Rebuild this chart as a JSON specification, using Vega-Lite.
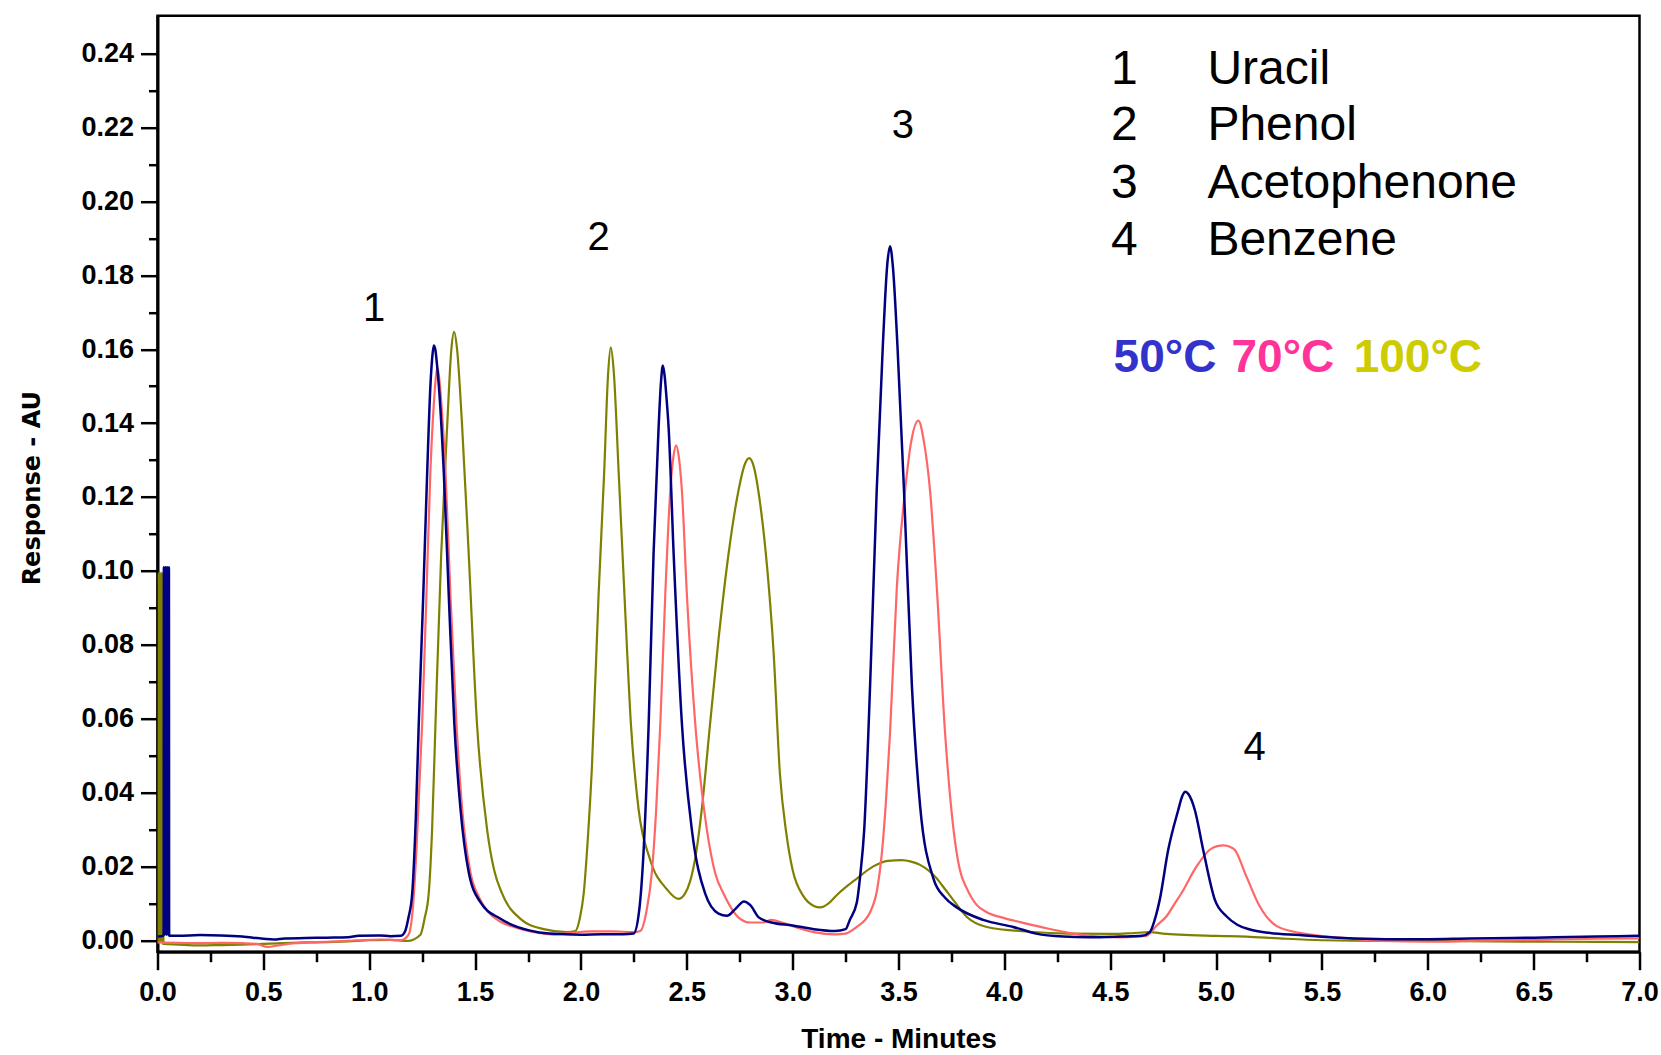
{
  "$schema": "https://vega.github.io/schema/vega-lite/v6.json",
  "autosize": {"type": "none"},
  "padding": {"left": 157.5, "top": 15.7, "right": 21.5, "bottom": 103.3},
  "width": 1482,
  "height": 936,
  "background": "white",
  "config": {
    "view": {"stroke": "black", "strokeWidth": 2.5},
    "axis": {"grid": false, "domainColor": "black", "tickColor": "black", "labelColor": "black", "titleColor": "black"}
  },
  "datasets": {
    "traces": [
      {"s":"50","t":0.000,"v":0.0010},{"s":"50","t":0.029,"v":0.0012},{"s":"50","t":0.030,"v":0.101},{"s":"50","t":0.034,"v":0.0015},{"s":"50","t":0.038,"v":0.101},{"s":"50","t":0.042,"v":0.0015},{"s":"50","t":0.046,"v":0.101},{"s":"50","t":0.050,"v":0.0015},{"s":"50","t":0.054,"v":0.101},{"s":"50","t":0.055,"v":0.0012},
      {"s":"50","t":0.10,"v":0.0012},{"s":"50","t":0.20,"v":0.0014},{"s":"50","t":0.30,"v":0.0013},{"s":"50","t":0.40,"v":0.0010},{"s":"50","t":0.50,"v":0.0004},{"s":"50","t":0.55,"v":0.0002},{"s":"50","t":0.60,"v":0.0005},{"s":"50","t":0.70,"v":0.0006},{"s":"50","t":0.80,"v":0.0007},{"s":"50","t":0.90,"v":0.0008},{"s":"50","t":0.95,"v":0.0012},{"s":"50","t":1.05,"v":0.0013},{"s":"50","t":1.10,"v":0.0011},{"s":"50","t":1.15,"v":0.0012},{"s":"50","t":1.17,"v":0.0025},
      {"s":"50","t":1.185,"v":0.006},{"s":"50","t":1.203,"v":0.0126},{"s":"50","t":1.22,"v":0.033},{"s":"50","t":1.234,"v":0.0586},{"s":"50","t":1.255,"v":0.093},{"s":"50","t":1.274,"v":0.127},{"s":"50","t":1.289,"v":0.150},{"s":"50","t":1.298,"v":0.158},{"s":"50","t":1.305,"v":0.161},{"s":"50","t":1.312,"v":0.160},{"s":"50","t":1.320,"v":0.156},{"s":"50","t":1.329,"v":0.150},{"s":"50","t":1.352,"v":0.127},{"s":"50","t":1.376,"v":0.093},{"s":"50","t":1.402,"v":0.0586},{"s":"50","t":1.431,"v":0.0356},{"s":"50","t":1.47,"v":0.0184},{"s":"50","t":1.525,"v":0.0103},{"s":"50","t":1.62,"v":0.0058},{"s":"50","t":1.76,"v":0.0026},{"s":"50","t":1.85,"v":0.0018},{"s":"50","t":2.00,"v":0.0015},{"s":"50","t":2.10,"v":0.0016},{"s":"50","t":2.20,"v":0.0016},{"s":"50","t":2.249,"v":0.0018},
      {"s":"50","t":2.275,"v":0.008},{"s":"50","t":2.296,"v":0.0241},{"s":"50","t":2.320,"v":0.0586},{"s":"50","t":2.343,"v":0.1045},{"s":"50","t":2.367,"v":0.139},{"s":"50","t":2.378,"v":0.151},{"s":"50","t":2.387,"v":0.1556},{"s":"50","t":2.395,"v":0.153},{"s":"50","t":2.404,"v":0.147},{"s":"50","t":2.414,"v":0.139},{"s":"50","t":2.438,"v":0.1045},{"s":"50","t":2.477,"v":0.0586},{"s":"50","t":2.524,"v":0.0299},{"s":"50","t":2.587,"v":0.0126},{"s":"50","t":2.65,"v":0.0072},{"s":"50","t":2.69,"v":0.0066},{"s":"50","t":2.73,"v":0.0085},{"s":"50","t":2.77,"v":0.0105},{"s":"50","t":2.80,"v":0.0095},{"s":"50","t":2.84,"v":0.0062},{"s":"50","t":2.90,"v":0.0048},{"s":"50","t":3.00,"v":0.0040},{"s":"50","t":3.10,"v":0.0030},{"s":"50","t":3.20,"v":0.0025},{"s":"50","t":3.25,"v":0.0030},
      {"s":"50","t":3.27,"v":0.0055},{"s":"50","t":3.303,"v":0.0102},{"s":"50","t":3.32,"v":0.018},{"s":"50","t":3.338,"v":0.0299},{"s":"50","t":3.366,"v":0.0692},{"s":"50","t":3.397,"v":0.1217},{"s":"50","t":3.426,"v":0.161},{"s":"50","t":3.447,"v":0.183},{"s":"50","t":3.460,"v":0.1879},{"s":"50","t":3.474,"v":0.182},{"s":"50","t":3.495,"v":0.161},{"s":"50","t":3.526,"v":0.1217},{"s":"50","t":3.563,"v":0.0692},{"s":"50","t":3.602,"v":0.0364},{"s":"50","t":3.665,"v":0.0167},{"s":"50","t":3.72,"v":0.0115},{"s":"50","t":3.775,"v":0.0089},{"s":"50","t":3.90,"v":0.0055},{"s":"50","t":4.042,"v":0.0036},{"s":"50","t":4.15,"v":0.0018},{"s":"50","t":4.278,"v":0.0010},{"s":"50","t":4.40,"v":0.0008},{"s":"50","t":4.55,"v":0.0010},{"s":"50","t":4.65,"v":0.0012},{"s":"50","t":4.687,"v":0.0022},
      {"s":"50","t":4.71,"v":0.0055},{"s":"50","t":4.734,"v":0.011},{"s":"50","t":4.774,"v":0.0245},{"s":"50","t":4.821,"v":0.0352},{"s":"50","t":4.840,"v":0.0390},{"s":"50","t":4.855,"v":0.0402},{"s":"50","t":4.870,"v":0.0395},{"s":"50","t":4.900,"v":0.0352},{"s":"50","t":4.939,"v":0.0245},{"s":"50","t":4.994,"v":0.011},{"s":"50","t":5.049,"v":0.0065},{"s":"50","t":5.10,"v":0.0042},{"s":"50","t":5.160,"v":0.0029},{"s":"50","t":5.25,"v":0.0020},{"s":"50","t":5.395,"v":0.0014},{"s":"50","t":5.6,"v":0.0006},{"s":"50","t":5.8,"v":0.0003},{"s":"50","t":6.0,"v":0.0003},{"s":"50","t":6.2,"v":0.0005},{"s":"50","t":6.4,"v":0.0006},{"s":"50","t":6.6,"v":0.0008},{"s":"50","t":6.8,"v":0.0010},{"s":"50","t":7.0,"v":0.0012},

      {"s":"70","t":0.00,"v":-0.0006},{"s":"70","t":0.1,"v":-0.0007},{"s":"70","t":0.2,"v":-0.0008},{"s":"70","t":0.3,"v":-0.0007},{"s":"70","t":0.4,"v":-0.0008},{"s":"70","t":0.47,"v":-0.0010},{"s":"70","t":0.52,"v":-0.0018},{"s":"70","t":0.57,"v":-0.0014},{"s":"70","t":0.65,"v":-0.0008},{"s":"70","t":0.75,"v":-0.0005},{"s":"70","t":0.85,"v":-0.0003},{"s":"70","t":0.95,"v":0.0000},{"s":"70","t":1.05,"v":0.0002},{"s":"70","t":1.15,"v":0.0000},{"s":"70","t":1.186,"v":0.0015},
      {"s":"70","t":1.205,"v":0.008},{"s":"70","t":1.223,"v":0.0241},{"s":"70","t":1.250,"v":0.0586},{"s":"70","t":1.270,"v":0.093},{"s":"70","t":1.289,"v":0.127},{"s":"70","t":1.305,"v":0.145},{"s":"70","t":1.314,"v":0.152},{"s":"70","t":1.322,"v":0.155},{"s":"70","t":1.331,"v":0.152},{"s":"70","t":1.34,"v":0.146},{"s":"70","t":1.360,"v":0.127},{"s":"70","t":1.384,"v":0.093},{"s":"70","t":1.412,"v":0.0586},{"s":"70","t":1.439,"v":0.0356},{"s":"70","t":1.478,"v":0.0184},{"s":"70","t":1.52,"v":0.0115},{"s":"70","t":1.557,"v":0.008},{"s":"70","t":1.62,"v":0.005},{"s":"70","t":1.683,"v":0.0036},{"s":"70","t":1.80,"v":0.0020},{"s":"70","t":1.87,"v":0.0015},{"s":"70","t":1.95,"v":0.0020},{"s":"70","t":2.05,"v":0.0024},{"s":"70","t":2.15,"v":0.0024},{"s":"70","t":2.25,"v":0.0022},{"s":"70","t":2.28,"v":0.0025},
      {"s":"70","t":2.31,"v":0.008},{"s":"70","t":2.335,"v":0.0184},{"s":"70","t":2.355,"v":0.035},{"s":"70","t":2.375,"v":0.0586},{"s":"70","t":2.398,"v":0.093},{"s":"70","t":2.422,"v":0.1217},{"s":"70","t":2.437,"v":0.131},{"s":"70","t":2.450,"v":0.1340},{"s":"70","t":2.462,"v":0.131},{"s":"70","t":2.477,"v":0.1217},{"s":"70","t":2.501,"v":0.093},{"s":"70","t":2.540,"v":0.0586},{"s":"70","t":2.595,"v":0.0299},{"s":"70","t":2.635,"v":0.018},{"s":"70","t":2.674,"v":0.0126},{"s":"70","t":2.752,"v":0.0058},{"s":"70","t":2.80,"v":0.0048},{"s":"70","t":2.86,"v":0.0048},{"s":"70","t":2.90,"v":0.0055},{"s":"70","t":2.95,"v":0.0048},{"s":"70","t":3.00,"v":0.0038},{"s":"70","t":3.10,"v":0.0022},{"s":"70","t":3.20,"v":0.0016},{"s":"70","t":3.25,"v":0.0018},
      {"s":"70","t":3.30,"v":0.0035},{"s":"70","t":3.366,"v":0.0076},{"s":"70","t":3.40,"v":0.014},{"s":"70","t":3.421,"v":0.0233},{"s":"70","t":3.440,"v":0.037},{"s":"70","t":3.460,"v":0.0561},{"s":"70","t":3.492,"v":0.0954},{"s":"70","t":3.531,"v":0.1217},{"s":"70","t":3.560,"v":0.135},{"s":"70","t":3.594,"v":0.1407},{"s":"70","t":3.62,"v":0.135},{"s":"70","t":3.649,"v":0.1217},{"s":"70","t":3.681,"v":0.0954},{"s":"70","t":3.720,"v":0.0561},{"s":"70","t":3.760,"v":0.0299},{"s":"70","t":3.790,"v":0.019},{"s":"70","t":3.822,"v":0.0141},{"s":"70","t":3.87,"v":0.0095},{"s":"70","t":3.917,"v":0.0076},{"s":"70","t":4.00,"v":0.0060},{"s":"70","t":4.075,"v":0.0049},{"s":"70","t":4.18,"v":0.0035},{"s":"70","t":4.278,"v":0.0023},{"s":"70","t":4.40,"v":0.0012},{"s":"70","t":4.55,"v":0.0008},{"s":"70","t":4.671,"v":0.0012},
      {"s":"70","t":4.72,"v":0.0040},{"s":"70","t":4.766,"v":0.0065},{"s":"70","t":4.80,"v":0.0095},{"s":"70","t":4.837,"v":0.0128},{"s":"70","t":4.908,"v":0.020},{"s":"70","t":4.970,"v":0.0245},{"s":"70","t":5.005,"v":0.0255},{"s":"70","t":5.036,"v":0.0257},{"s":"70","t":5.065,"v":0.0253},{"s":"70","t":5.088,"v":0.0245},{"s":"70","t":5.143,"v":0.0173},{"s":"70","t":5.206,"v":0.0092},{"s":"70","t":5.285,"v":0.0039},{"s":"70","t":5.395,"v":0.0020},{"s":"70","t":5.584,"v":0.0007},{"s":"70","t":5.788,"v":-0.0002},{"s":"70","t":6.0,"v":-0.0004},{"s":"70","t":6.2,"v":-0.0002},{"s":"70","t":6.4,"v":0.0000},{"s":"70","t":6.6,"v":0.0002},{"s":"70","t":6.8,"v":0.0004},{"s":"70","t":7.0,"v":0.0005},

      {"s":"100","t":0.000,"v":-0.0008},{"s":"100","t":0.003,"v":-0.0008},{"s":"100","t":0.004,"v":0.0995},{"s":"100","t":0.008,"v":-0.0005},{"s":"100","t":0.012,"v":0.0995},{"s":"100","t":0.016,"v":-0.0005},{"s":"100","t":0.020,"v":0.0995},{"s":"100","t":0.024,"v":-0.0005},{"s":"100","t":0.027,"v":0.0995},{"s":"100","t":0.028,"v":-0.0010},
      {"s":"100","t":0.10,"v":-0.0012},{"s":"100","t":0.20,"v":-0.0014},{"s":"100","t":0.30,"v":-0.0013},{"s":"100","t":0.40,"v":-0.0012},{"s":"100","t":0.50,"v":-0.0010},{"s":"100","t":0.60,"v":-0.0008},{"s":"100","t":0.70,"v":-0.0006},{"s":"100","t":0.80,"v":-0.0005},{"s":"100","t":0.90,"v":-0.0003},{"s":"100","t":1.00,"v":0.0000},{"s":"100","t":1.10,"v":0.0001},{"s":"100","t":1.18,"v":-0.0002},{"s":"100","t":1.242,"v":0.0015},
      {"s":"100","t":1.262,"v":0.006},{"s":"100","t":1.281,"v":0.0126},{"s":"100","t":1.297,"v":0.030},{"s":"100","t":1.313,"v":0.0586},{"s":"100","t":1.340,"v":0.1045},{"s":"100","t":1.368,"v":0.139},{"s":"100","t":1.388,"v":0.160},{"s":"100","t":1.401,"v":0.1647},{"s":"100","t":1.415,"v":0.160},{"s":"100","t":1.439,"v":0.139},{"s":"100","t":1.470,"v":0.1045},{"s":"100","t":1.509,"v":0.0586},{"s":"100","t":1.557,"v":0.0299},{"s":"100","t":1.590,"v":0.019},{"s":"100","t":1.628,"v":0.0126},{"s":"100","t":1.714,"v":0.0058},{"s":"100","t":1.824,"v":0.0030},{"s":"100","t":1.934,"v":0.0022},{"s":"100","t":1.974,"v":0.0025},
      {"s":"100","t":1.995,"v":0.006},{"s":"100","t":2.013,"v":0.0126},{"s":"100","t":2.032,"v":0.027},{"s":"100","t":2.052,"v":0.047},{"s":"100","t":2.083,"v":0.093},{"s":"100","t":2.110,"v":0.127},{"s":"100","t":2.128,"v":0.153},{"s":"100","t":2.141,"v":0.1605},{"s":"100","t":2.155,"v":0.154},{"s":"100","t":2.178,"v":0.127},{"s":"100","t":2.206,"v":0.093},{"s":"100","t":2.236,"v":0.0586},{"s":"100","t":2.272,"v":0.0356},{"s":"100","t":2.327,"v":0.0218},{"s":"100","t":2.406,"v":0.0138},{"s":"100","t":2.460,"v":0.0112},{"s":"100","t":2.490,"v":0.0125},{"s":"100","t":2.516,"v":0.0160},{"s":"100","t":2.545,"v":0.024},{"s":"100","t":2.571,"v":0.0356},{"s":"100","t":2.610,"v":0.0586},{"s":"100","t":2.650,"v":0.0815},{"s":"100","t":2.697,"v":0.1045},{"s":"100","t":2.744,"v":0.1217},{"s":"100","t":2.775,"v":0.1290},{"s":"100","t":2.795,"v":0.1305},{"s":"100","t":2.815,"v":0.1285},{"s":"100","t":2.847,"v":0.1180},{"s":"100","t":2.881,"v":0.1000},{"s":"100","t":2.910,"v":0.0780},{"s":"100","t":2.940,"v":0.0450},{"s":"100","t":2.970,"v":0.0290},{"s":"100","t":3.000,"v":0.0190},{"s":"100","t":3.050,"v":0.0120},{"s":"100","t":3.100,"v":0.0093},{"s":"100","t":3.130,"v":0.0089},
      {"s":"100","t":3.170,"v":0.0100},{"s":"100","t":3.208,"v":0.0122},{"s":"100","t":3.303,"v":0.0167},{"s":"100","t":3.381,"v":0.0200},{"s":"100","t":3.450,"v":0.0215},{"s":"100","t":3.515,"v":0.0217},{"s":"100","t":3.560,"v":0.0213},{"s":"100","t":3.602,"v":0.0204},{"s":"100","t":3.681,"v":0.0167},{"s":"100","t":3.720,"v":0.0138},{"s":"100","t":3.760,"v":0.0108},{"s":"100","t":3.823,"v":0.0063},{"s":"100","t":3.917,"v":0.0036},{"s":"100","t":4.121,"v":0.0023},{"s":"100","t":4.30,"v":0.0018},{"s":"100","t":4.514,"v":0.0017},{"s":"100","t":4.60,"v":0.0019},{"s":"100","t":4.687,"v":0.0022},{"s":"100","t":4.75,"v":0.0018},{"s":"100","t":4.828,"v":0.0015},{"s":"100","t":5.0,"v":0.0012},{"s":"100","t":5.143,"v":0.0010},{"s":"100","t":5.30,"v":0.0005},{"s":"100","t":5.5,"v":0.0000},{"s":"100","t":5.8,"v":-0.0002},{"s":"100","t":6.0,"v":-0.0002},{"s":"100","t":6.3,"v":-0.0003},{"s":"100","t":6.6,"v":-0.0004},{"s":"100","t":7.0,"v":-0.0005}
    ],
    "peaks": [
      {"t":1.023,"v":0.1676,"label":"1"},
      {"t":2.084,"v":0.1868,"label":"2"},
      {"t":3.521,"v":0.2172,"label":"3"},
      {"t":5.182,"v":0.0487,"label":"4"}
    ],
    "legend": [
      {"t":4.567,"v":0.2319,"num":"1","name":"Uracil"},
      {"t":4.567,"v":0.2166,"num":"2","name":"Phenol"},
      {"t":4.567,"v":0.2009,"num":"3","name":"Acetophenone"},
      {"t":4.567,"v":0.1854,"num":"4","name":"Benzene"}
    ],
    "temps": [
      {"t":4.516,"v":0.1538,"label":"50°C"},
      {"t":5.073,"v":0.1538,"label":"70°C"},
      {"t":5.650,"v":0.1538,"label":"100°C"}
    ]
  },
  "resolve": {"axis": {"x": "independent", "y": "independent"}},
  "layer": [
    {
      "data": {"name": "traces"},
      "transform": [{"filter": "datum.s === '100'"}],
      "mark": {"type": "line", "color": "#808000", "strokeWidth": 2.2, "clip": true, "interpolate": "monotone"},
      "encoding": {
        "x": {"field": "t", "type": "quantitative", "scale": {"domain": [0, 7], "nice": false, "zero": false},
          "axis": {"orient": "bottom", "values": [0,0.5,1,1.5,2,2.5,3,3.5,4,4.5,5,5.5,6,6.5,7], "format": ".1f",
            "labelFont": "Liberation Sans", "labelFontSize": 27, "labelFontWeight": "bold", "labelPadding": 10,
            "labelFlush": false, "labelOverlap": false, "tickSize": 18, "tickWidth": 2.5, "domainWidth": 3,
            "title": "Time - Minutes", "titleFont": "Liberation Sans", "titleFontSize": 28, "titleFontWeight": "bold",
            "titleY": 95.5, "titleBaseline": "alphabetic"}},
        "y": {"field": "v", "type": "quantitative", "scale": {"domain": [-0.0031, 0.2503], "nice": false, "zero": false},
          "axis": {"orient": "left", "values": [0,0.02,0.04,0.06,0.08,0.1,0.12,0.14,0.16,0.18,0.2,0.22,0.24], "format": ".2f",
            "labelFont": "Liberation Sans", "labelFontSize": 27, "labelFontWeight": "bold", "labelPadding": 7,
            "labelOverlap": false, "labelFlush": false, "tickSize": 17, "tickWidth": 2.5, "domainWidth": 3,
            "title": "Response - AU", "titleFont": "DejaVu Sans", "titleFontSize": 24, "titleFontWeight": "bold",
            "titleAngle": 270, "titleX": -118, "titleY": 472, "titleAlign": "center", "titleBaseline": "alphabetic"}}
      }
    },
    {
      "data": {"name": "traces"},
      "transform": [{"filter": "datum.s === '70'"}],
      "mark": {"type": "line", "color": "#FF6666", "strokeWidth": 2.2, "clip": true, "interpolate": "monotone"},
      "encoding": {
        "x": {"field": "t", "type": "quantitative", "scale": {"domain": [0, 7], "nice": false, "zero": false}, "axis": null},
        "y": {"field": "v", "type": "quantitative", "scale": {"domain": [-0.0031, 0.2503], "nice": false, "zero": false}, "axis": null}
      }
    },
    {
      "data": {"name": "traces"},
      "transform": [{"filter": "datum.s === '50'"}],
      "mark": {"type": "line", "color": "#000080", "strokeWidth": 2.5, "clip": true, "interpolate": "monotone"},
      "encoding": {
        "x": {"field": "t", "type": "quantitative", "scale": {"domain": [0, 7], "nice": false, "zero": false},
          "axis": {"orient": "bottom", "values": [0.25,0.75,1.25,1.75,2.25,2.75,3.25,3.75,4.25,4.75,5.25,5.75,6.25,6.75],
            "labels": false, "domain": false, "tickSize": 10, "tickWidth": 2.5, "title": null}},
        "y": {"field": "v", "type": "quantitative", "scale": {"domain": [-0.0031, 0.2503], "nice": false, "zero": false},
          "axis": {"orient": "left", "values": [0.01,0.03,0.05,0.07,0.09,0.11,0.13,0.15,0.17,0.19,0.21,0.23],
            "labels": false, "domain": false, "tickSize": 9, "tickWidth": 2.5, "title": null}}
      }
    },
    {
      "data": {"name": "peaks"},
      "mark": {"type": "text", "font": "Liberation Sans", "fontSize": 40, "align": "center", "baseline": "alphabetic", "color": "black"},
      "encoding": {
        "x": {"field": "t", "type": "quantitative", "axis": null},
        "y": {"field": "v", "type": "quantitative", "axis": null},
        "text": {"field": "label"}
      }
    },
    {
      "data": {"name": "legend"},
      "mark": {"type": "text", "font": "Liberation Sans", "fontSize": 48, "align": "center", "baseline": "alphabetic", "color": "black"},
      "encoding": {
        "x": {"field": "t", "type": "quantitative", "axis": null},
        "y": {"field": "v", "type": "quantitative", "axis": null},
        "text": {"field": "num"}
      }
    },
    {
      "data": {"name": "legend"},
      "mark": {"type": "text", "font": "Liberation Sans", "fontSize": 48, "align": "left", "baseline": "alphabetic", "color": "black", "dx": 83},
      "encoding": {
        "x": {"field": "t", "type": "quantitative", "axis": null},
        "y": {"field": "v", "type": "quantitative", "axis": null},
        "text": {"field": "name"}
      }
    },
    {
      "data": {"name": "temps"},
      "mark": {"type": "text", "font": "Liberation Sans", "fontSize": 46, "fontWeight": "bold", "align": "left", "baseline": "alphabetic"},
      "encoding": {
        "x": {"field": "t", "type": "quantitative", "axis": null},
        "y": {"field": "v", "type": "quantitative", "axis": null},
        "text": {"field": "label"},
        "color": {"field": "label", "type": "nominal", "legend": null,
          "scale": {"domain": ["50°C", "70°C", "100°C"], "range": ["#3333CC", "#FF3399", "#CCCC00"]}}
      }
    }
  ]
}
